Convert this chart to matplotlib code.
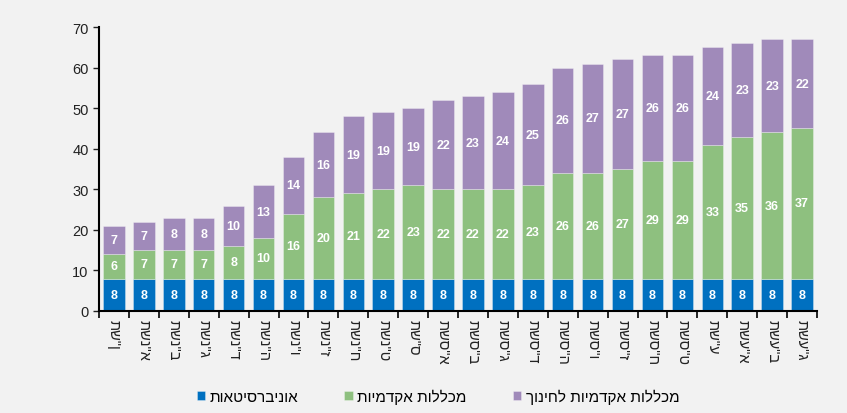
import numpy as np
import matplotlib
matplotlib.use("Agg")
import matplotlib.pyplot as plt

plt.rcParams['font.family'] = ['Liberation Sans', 'DejaVu Sans']

# years (Hebrew calendar), left to right
years = ['תש"ן', 'תשנ"א', 'תשנ"ב', 'תשנ"ג', 'תשנ"ד', 'תשנ"ה', 'תשנ"ו', 'תשנ"ז',
         'תשנ"ח', 'תשנ"ט', 'תש"ס', 'תשס"א', 'תשס"ב', 'תשס"ג', 'תשס"ד', 'תשס"ה',
         'תשס"ו', 'תשס"ז', 'תשס"ח', 'תשס"ט', 'תש"ע', 'תשע"א', 'תשע"ב', 'תשע"ג']

universities = [8] * 24
colleges = [6, 7, 7, 7, 8, 10, 16, 20, 21, 22, 23, 22, 22, 22, 23, 26, 26, 27, 29, 29, 33, 35, 36, 37]
edu_colleges = [7, 7, 8, 8, 10, 13, 14, 16, 19, 19, 19, 22, 23, 24, 25, 26, 27, 27, 26, 26, 24, 23, 23, 22]

series_names = ['אוניברסיטאות', 'מכללות אקדמיות', 'מכללות אקדמיות לחינוך']
colors = ['#0070C0', '#8EC07F', '#A08ABA']

bg = '#F2F2F2'
fig = plt.figure(figsize=(8.47, 4.14), dpi=100, facecolor=bg)
ax = fig.add_axes([99 / 847, 1 - 312 / 414, 718 / 847, 284 / 414], facecolor=bg)

x = np.arange(len(years))
bottom = np.zeros(len(years))
handles = []
for vals, name, col in zip([universities, colleges, edu_colleges], series_names, colors):
    vals = np.array(vals)
    bars = ax.bar(x, vals, width=0.72, bottom=bottom, color=col,
                  edgecolor=(1, 1, 1, 0.35), linewidth=0.6, label=name[::-1])
    ax.bar_label(bars, labels=[str(v) for v in vals], label_type='center',
                 color='white', fontweight='bold', fontsize=9)
    handles.append(bars)
    bottom += vals

ax.set_xlim(-0.5, len(years) - 0.5)
ax.set_ylim(0, 70)
ax.set_yticks(range(0, 71, 10))
ax.tick_params(axis='y', labelsize=10.5, length=4, width=1, colors='#222222')

ax.set_xticks(x)
ax.set_xticklabels(years, rotation=270, fontsize=10.5)
ax.tick_params(axis='x', which='major', length=0, pad=6, colors='#222222')
ax.set_xticks(np.arange(-0.5, len(years), 1), minor=True)
ax.tick_params(axis='x', which='minor', length=5, width=1.2)

for s in ['top', 'right']:
    ax.spines[s].set_visible(False)
for s in ['left', 'bottom']:
    ax.spines[s].set_linewidth(1.5)
    ax.spines[s].set_color('black')

fig.legend(handles=handles, labels=[n[::-1] for n in series_names], ncol=3,
           loc='center', bbox_to_anchor=(438 / 847, 1 - 397 / 414),
           frameon=False, fontsize=11, handlelength=0.55, handleheight=0.55,
           handletextpad=0.3, columnspacing=3.0)

fig.savefig('out.png', dpi=100, facecolor=bg)
